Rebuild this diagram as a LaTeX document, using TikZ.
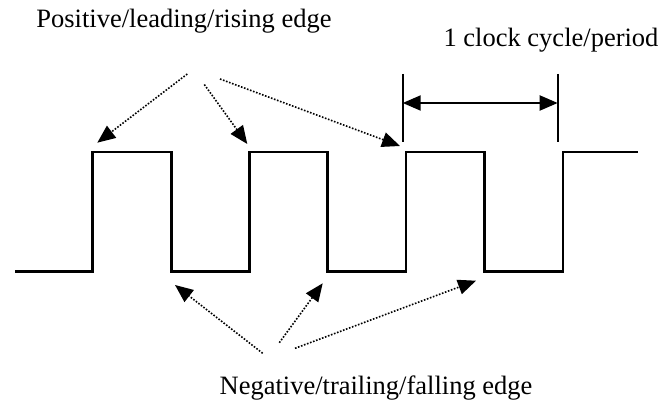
\documentclass[tikz,border=0pt]{standalone}
\usepackage{fontspec}
\setmainfont{Liberation Serif}
\usepackage{tikz}
\usetikzlibrary{arrows.meta}

\begin{document}
\begin{tikzpicture}[x=1pt, y=-1pt]
		\tikzstyle{every node}=[font=\fontsize{26.5}{30}\selectfont, inner sep=0pt];
		\tikzstyle{pointer}=[line width=1.6pt, dash pattern=on 1.6pt off 1.6pt, -{Triangle[length=18pt, width=15pt]}];
		\tikzstyle{signal}=[line width=2.8pt, line join=miter];
		\useasboundingbox (0,0) rectangle (659,414);
		\node (rising) at (184, 21) {Positive/leading/rising edge};
		\node (period) at (551, 40) {1 clock cycle/period};
		\node (falling) at (376, 388) {Negative/trailing/falling edge};
		% the clock signal
		\draw[signal] (15,271.7) -- (92.7,271.7) -- (92.7,152) -- (171.4,152) -- (171.4,271.7)
			-- (249.6,271.7) -- (249.6,152) -- (327.7,152) -- (327.7,271.7)
			-- (406,271.7) -- (406,152) -- (484.4,152) -- (484.4,271.7)
			-- (563,271.7) -- (563,152) -- (638,152);
		% one period
		\coordinate (startmark) at (402.7, 74);
		\coordinate (endmark) at (557.7, 74);
		\draw[line width=2pt] (startmark) -- +(0,68);
		\draw[line width=2pt] (endmark) -- +(0,68);
		\draw[line width=2pt, {Triangle[length=18pt, width=15pt]}-{Triangle[length=18pt, width=15pt]}] ([yshift=-29pt]startmark) -- ([yshift=-29pt]endmark);
		% rising edges
		\coordinate (r1) at (187.3, 74);
		\coordinate (r2) at (204.3, 84.5);
		\coordinate (r3) at (220, 79);
		\coordinate (up1) at (97.3, 142.7);
		\coordinate (up2) at (247.3, 144);
		\coordinate (up3) at (400, 146);
		\draw[pointer] (r1) -- (up1);
		\draw[pointer] (r2) -- (up2);
		\draw[pointer] (r3) -- (up3);
		% falling edges
		\coordinate (f1) at (262.7, 353.3);
		\coordinate (f2) at (279.3, 342.7);
		\coordinate (f3) at (295, 348.3);
		\coordinate (down1) at (175, 285);
		\coordinate (down2) at (322.7, 283.3);
		\coordinate (down3) at (476, 280.7);
		\draw[pointer] (f1) -- (down1);
		\draw[pointer] (f2) -- (down2);
		\draw[pointer] (f3) -- (down3);
	\end{tikzpicture}
\end{document}
